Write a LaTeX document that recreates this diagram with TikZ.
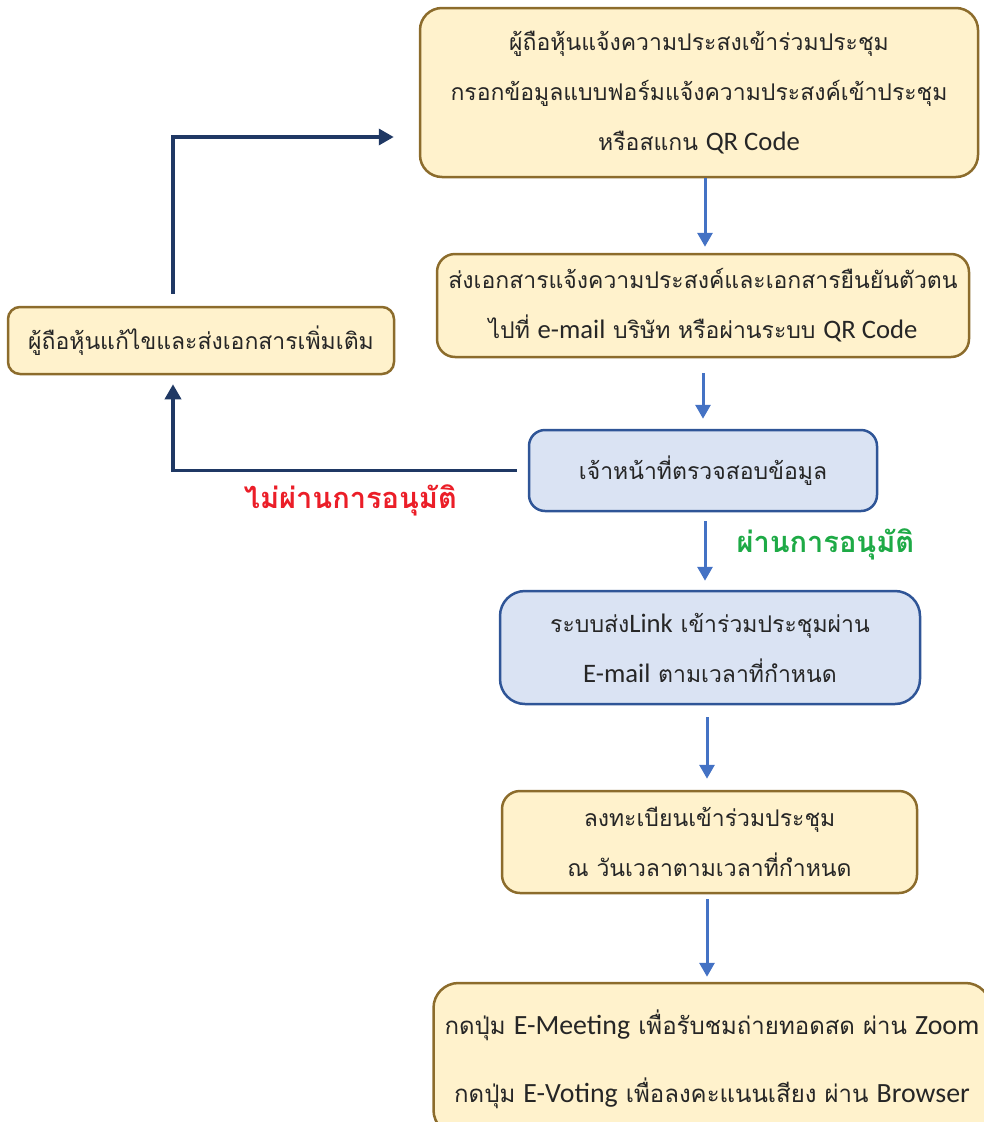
\documentclass[tikz,border=0pt]{standalone}
\usepackage{fontspec}
\setmainfont[Script=Thai]{Loma}
\newfontfamily\latinfont[Scale=1.16]{Carlito}
\newcommand{\en}[1]{{\latinfont #1}}
\usetikzlibrary{arrows.meta}
\definecolor{boxyellow}{RGB}{255,242,204}
\definecolor{boxbrown}{RGB}{140,108,44}
\definecolor{boxblue}{RGB}{47,85,151}
\definecolor{boxlightblue}{RGB}{218,227,243}
\definecolor{arrowblue}{RGB}{68,114,196}
\definecolor{navy}{RGB}{31,56,100}
\definecolor{textgray}{RGB}{38,38,38}
\definecolor{denyred}{RGB}{235,30,40}
\definecolor{passgreen}{RGB}{30,170,70}
\tikzset{
	yellowbox/.style={draw=boxbrown,fill=boxyellow,line width=2.5pt,rounded corners=18pt,align=center,text=textgray,inner sep=0pt,font=\fontsize{23}{50}\selectfont},
	bluebox/.style={yellowbox,draw=boxblue,fill=boxlightblue},
	flow/.style={draw=arrowblue,line width=3pt,-{Triangle[width=15pt,length=14pt]}},
	back/.style={draw=navy,line width=3.5pt,-{Triangle[width=16pt,length=15pt]}},
	result/.style={font=\bfseries\fontsize{29}{34}\selectfont,inner sep=0pt}
}
\begin{document}
\begin{tikzpicture}[x=1pt,y=-1pt]
\useasboundingbox (0,0) rectangle (984,1122);

	\node[yellowbox,minimum width=558pt,minimum height=169pt,rounded corners=22pt](notify) at (699,92.5){ผู้ถือหุ้นแจ้งความประสงเข้าร่วมประชุม\\กรอกข้อมูลแบบฟอร์มแจ้งความประสงค์เข้าประชุม\\หรือสแกน \en{QR Code}};
	\node[yellowbox,minimum width=532pt,minimum height=103pt](senddoc) at (703,305.5){ส่งเอกสารแจ้งความประสงค์และเอกสารยืนยันตัวตน\\ไปที่ \en{e-mail} บริษัท หรือผ่านระบบ \en{QR Code}};
	\draw[flow,shorten >=6pt](notify.south -| 705,0)--(senddoc.north -| 705,0);

	\node[bluebox,minimum width=348pt,minimum height=81pt,rounded corners=16pt](check) at (703,470.5){เจ้าหน้าที่ตรวจสอบข้อมูล};
	\draw[flow,shorten <=15pt,shorten >=10pt](senddoc)--(check);

	\node[yellowbox,minimum width=386pt,minimum height=67pt,rounded corners=12pt](fixdoc) at (201,340.5){ผู้ถือหุ้นแก้ไขและส่งเอกสารเพิ่มเติม};
\draw[back,shorten <=11pt,shorten >=9pt](check.west)-|([xshift=-28pt]fixdoc.south)node[pos=.25,below=12pt,result,text=denyred]{ไม่ผ่านการอนุมัติ};
\draw[back,shorten <=12pt,shorten >=25pt]([xshift=-28pt]fixdoc.north)|-([yshift=-44.5pt]notify.west);

	\node[bluebox,minimum width=420pt,minimum height=113pt,rounded corners=25pt](link) at (710,647.5){ระบบส่ง\en{Link} เข้าร่วมประชุมผ่าน\\\en{E-mail} ตามเวลาที่กำหนด};
	\draw[flow,shorten <=9pt,shorten >=9pt](check.south -| 705,0)--(link.north -| 705,0)node[midway,right=30pt,yshift=7pt,result,text=passgreen]{ผ่านการอนุมัติ};

	\node[yellowbox,minimum width=415pt,minimum height=102pt](register) at (709.5,842){ลงทะเบียนเข้าร่วมประชุม\\ณ วันเวลาตามเวลาที่กำหนด};
	\draw[flow,shorten <=12pt,shorten >=11pt](link.south -| 707,0)--(register.north -| 707,0);

	\node[yellowbox,minimum width=557pt,minimum height=152pt,rounded corners=25pt,font=\fontsize{24}{68}\selectfont](vote) at (712,1059){กดปุ่ม \en{E-Meeting} เพื่อรับชมถ่ายทอดสด ผ่าน \en{Zoom}\\กดปุ่ม \en{E-Voting} เพื่อลงคะแนนเสียง ผ่าน \en{Browser}};
	\draw[flow,shorten <=5pt,shorten >=5pt](register.south -| 707,0)--(vote.north -| 707,0);
\end{tikzpicture}
\end{document}
